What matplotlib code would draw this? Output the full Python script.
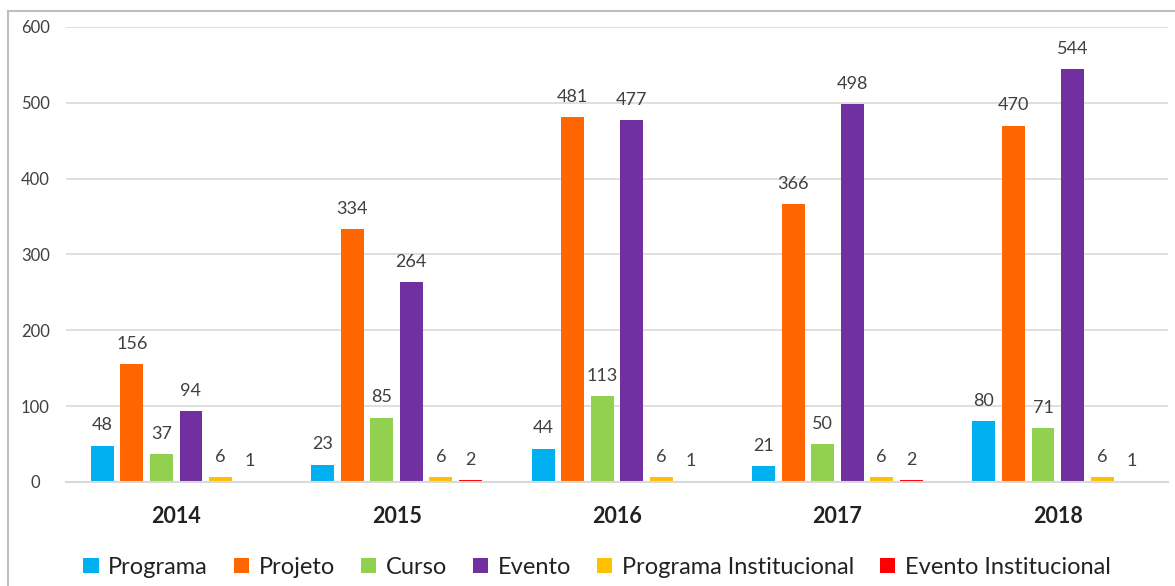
import matplotlib
matplotlib.use("Agg")
import matplotlib.pyplot as plt
from matplotlib.patches import Rectangle
import numpy as np

years = ["2014", "2015", "2016", "2017", "2018"]
series_names = ["Programa", "Projeto", "Curso", "Evento", "Programa Institucional", "Evento Institucional"]
programa = [48, 23, 44, 21, 80]
projeto = [156, 334, 481, 366, 470]
curso = [37, 85, 113, 50, 71]
evento = [94, 264, 477, 498, 544]
programa_inst = [6, 6, 6, 6, 6]
evento_inst = [1, 2, 1, 2, 1]
colors = ["#00B0F0", "#FF6600", "#92D050", "#7030A0", "#FFC000", "#FF0000"]

plt.rcParams['font.family'] = ['Lato', 'DejaVu Sans']

fig = plt.figure(figsize=(11.75, 5.86), dpi=100)
ax = fig.add_axes([0.0562, 0.1775, 0.9378, 0.7765])

data = [programa, projeto, curso, evento, programa_inst, evento_inst]
x = np.arange(len(years))
step = 0.134
width = 0.104
handles = []
for i, (vals, c, name) in enumerate(zip(data, colors, series_names)):
    pos = x + (i - 2.5) * step
    b = ax.bar(pos, vals, width=width, color=c, label=name, zorder=2)
    handles.append(b)
    for p, v in zip(pos, vals):
        ax.text(p, v + 16, str(v), ha='center', va='bottom', fontsize=13, color='#404040')

ax.set_xlim(-0.5, len(years) - 0.5)
ax.set_ylim(0, 600)
ax.set_yticks(range(0, 601, 100))
ax.yaxis.grid(True, color='#d9d9d9', linewidth=1.2, zorder=0)
ax.set_axisbelow(True)
for s in ['top', 'right', 'left']:
    ax.spines[s].set_visible(False)
ax.spines['bottom'].set_color('#d9d9d9')
ax.spines['bottom'].set_linewidth(1.5)
ax.spines['bottom'].set_zorder(4)
ax.tick_params(axis='both', length=0)
ax.tick_params(axis='y', labelsize=12, labelcolor='#404040')
ax.set_xticks(x)
ax.set_xticklabels(years, fontsize=15.5, fontweight='bold', color='#222222')
ax.tick_params(axis='x', pad=17)
for lbl in ax.get_yticklabels():
    lbl.set_horizontalalignment('center')
ax.tick_params(axis='y', pad=22)

leg = fig.legend(handles=handles, labels=series_names, loc='center', ncol=6,
                 bbox_to_anchor=(0.508, 0.032), frameon=False, fontsize=17,
                 handlelength=0.65, handleheight=0.65, handletextpad=0.4,
                 columnspacing=1.1)
for t in leg.get_texts():
    t.set_color('#222222')

fig.patches.append(Rectangle((0.007, -0.01), 1.0, 0.991, transform=fig.transFigure,
                             fill=False, edgecolor='#bfbfbf', linewidth=1.5))

fig.savefig("out.png", dpi=100)
